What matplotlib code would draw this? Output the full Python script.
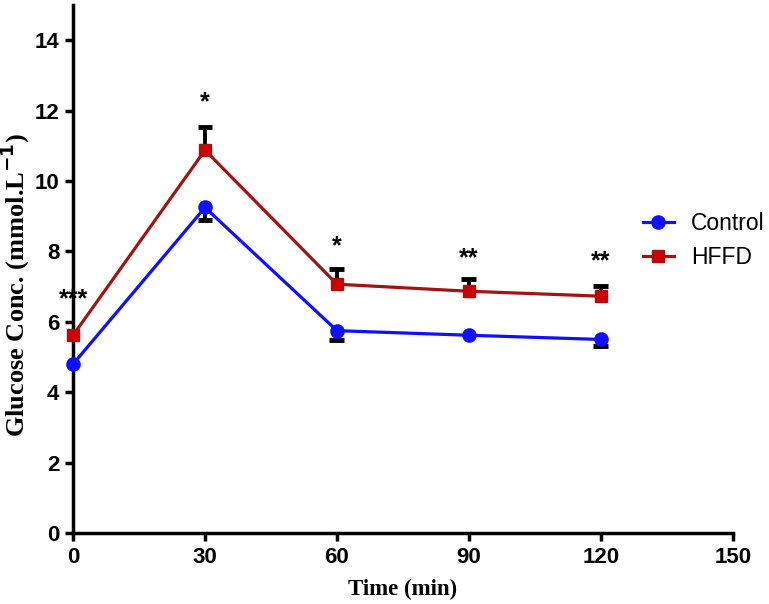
import numpy as np
import matplotlib
matplotlib.use("Agg")
from matplotlib import pyplot as plt

# data
time_min = [0, 30, 60, 90, 120]
control = [4.80, 9.25, 5.75, 5.62, 5.50]
control_err = [0.0, 0.36, 0.27, 0.0, 0.18]   # lower bars only
hffd = [5.62, 10.88, 7.07, 6.87, 6.73]
hffd_err = [0.0, 0.66, 0.43, 0.35, 0.29]     # upper bars only
stars = ["***", "*", "*", "**", "**"]
star_y = [6.65, 12.25, 8.15, 7.8, 7.72]

fig = plt.figure(figsize=(7.69, 6.04), dpi=100)
ax = fig.add_axes([0.095, 0.1175, 0.858, 0.874])

cap = 1.7  # half cap width in minutes

def one_sided_err(x, y, err, sign):
    x = np.asarray(x, float)
    y = np.asarray(y, float)
    err = np.asarray(err, float)
    keep = err > 0
    ends = y + sign * err
    ax.vlines(x[keep], y[keep], ends[keep], color="black", lw=2.8, zorder=2)
    ax.hlines(ends[keep], x[keep] - cap, x[keep] + cap, color="black", lw=3.5, zorder=2)

one_sided_err(time_min, control, control_err, -1)
one_sided_err(time_min, hffd, hffd_err, +1)

ax.plot(time_min, control, color="#1010ff", lw=2.3, marker="o", ms=9.5,
        mfc="#1010ff", mec="#1010ff", label="Control", zorder=3, clip_on=False)
ax.plot(time_min, hffd, color="#a01414", lw=2.3, marker="s", ms=8.5,
        mfc="#d00000", mec="#a01414", label="HFFD", zorder=3, clip_on=False)

for x, y, s in zip(time_min, star_y, stars):
    ax.text(x, y, s, ha="center", va="center", fontsize=18, fontweight="bold",
            family="Liberation Sans")

ax.set_xlim(0, 150)
ax.set_ylim(0, 15)
ax.set_xticks([0, 30, 60, 90, 120, 150])
ax.set_yticks([0, 2, 4, 6, 8, 10, 12, 14])

for side in ["top", "right"]:
    ax.spines[side].set_visible(False)
for side in ["left", "bottom"]:
    ax.spines[side].set_linewidth(2.5)
ax.tick_params(direction="out", length=6, width=2.5, pad=4)
for lab in ax.get_xticklabels() + ax.get_yticklabels():
    lab.set_family("Liberation Sans")
    lab.set_fontweight("bold")
    lab.set_fontsize(16)

ax.set_xlabel("Time (min)", family="Liberation Serif", fontweight="bold",
              fontsize=16.5, labelpad=8)
ax.set_ylabel("Glucose Conc. (mmol.L$^{\\mathbf{-1}}$)", family="Liberation Serif",
              fontweight="bold", fontsize=19)
ax.yaxis.set_label_coords(-0.062, 0.47)

leg = fig.legend(loc="center left", bbox_to_anchor=(0.836, 0.602), frameon=False,
                 prop={"family": "Liberation Sans", "size": 16.5},
                 handlelength=1.35, handletextpad=0.75, labelspacing=0.45,
                 borderpad=0, borderaxespad=0)

fig.savefig("out.png", dpi=100)
